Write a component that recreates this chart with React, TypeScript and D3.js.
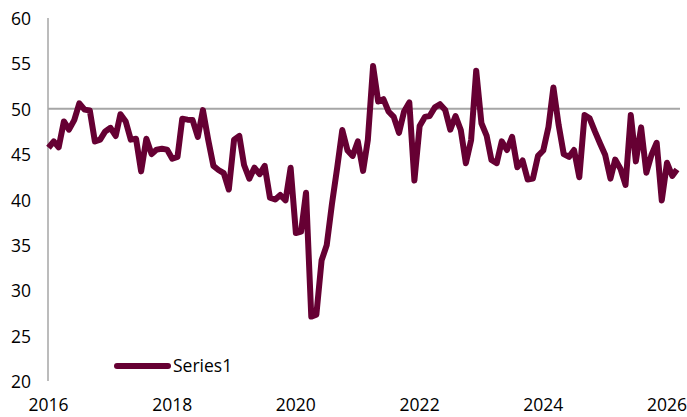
import * as d3 from "d3";

// monthly readings, Jan 2016 .. Mar 2026
const startYear = 2016;
const values: number[] = [
    45.7, 46.4, 45.75, 48.6, 47.7, 48.75, 50.6, 49.9, 49.8, 46.4, 46.6, 47.5,
    47.9, 47.0, 49.4, 48.6, 46.6, 46.7, 43.1, 46.7, 45.0, 45.5, 45.6, 45.5,
    44.5, 44.7, 48.9, 48.8, 48.75, 46.9, 49.85, 46.6, 43.7, 43.25, 42.9, 41.1,
    46.6, 47.0, 43.8, 42.3, 43.5, 42.8, 43.7, 40.2, 40.0, 40.5, 39.9, 43.5,
    36.3, 36.45, 40.75, 27.1, 27.3, 33.3, 34.95, 39.5, 43.5, 47.65, 45.4, 44.8,
    46.4, 43.15, 46.55, 54.7, 50.8, 51.05, 49.7, 49.1, 47.35, 49.7, 50.7, 42.1,
    48.1, 49.1, 49.2, 50.15, 50.5, 49.85, 47.7, 49.2, 47.65, 44.0, 46.55, 54.2,
    48.4, 47.0, 44.35, 44.0, 46.4, 45.45, 46.9, 43.55, 44.3, 42.2, 42.3, 44.8,
    45.4, 48.0, 52.35, 48.2, 45.0, 44.7, 45.45, 42.45, 49.3, 48.95, 47.5, 46.2,
    44.9, 42.3, 44.4, 43.4, 41.6, 49.3, 44.2, 47.95, 42.95, 44.9, 46.25, 39.9,
    44.05, 42.6, 43.3,
];
const yTicks = [20, 25, 30, 35, 40, 45, 50, 55, 60];
const xTickYears = [2016, 2018, 2020, 2022, 2024, 2026];
const referenceLevel = 50;
const seriesName = "Series1";

type Point = { date: Date; value: number };
const data: Point[] = values.map((v, i) => ({ date: new Date(startYear, i, 1), value: v }));

export default function App() {
    const width = 687;
    const height = 417;
    const color = "#660033";
    const gray = "#a6a6a6";
    const font = "'Open Sans', sans-serif";

    const x = d3
        .scaleTime()
        .domain([data[0].date, data[data.length - 1].date])
        .range([48.5, 677]);
    const y = d3.scaleLinear().domain([20, 60]).range([381, 18]);

    const line = d3
        .line<Point>()
        .x((d) => x(d.date))
        .y((d) => y(d.value));

    return (
        <svg
            width={width}
            height={height}
            style={{ position: "absolute", left: 0, top: 0, background: "#fff" }}
        >
            <line x1={48} x2={48} y1={y(60)} y2={y(20)} stroke={gray} strokeWidth={1.5} />
            <line x1={48} x2={680} y1={y(referenceLevel)} y2={y(referenceLevel)} stroke={gray} strokeWidth={2} />

            {yTicks.map((t) => (
                <text
                    key={t}
                    x={31}
                    y={y(t)}
                    textAnchor="end"
                    dominantBaseline="central"
                    fontFamily={font}
                    fontSize={17.5}
                    fill="#000"
                >
                    {t}
                </text>
            ))}

            {xTickYears.map((yr) => (
                <text
                    key={yr}
                    x={x(new Date(yr, 0, 1))}
                    y={411}
                    textAnchor="middle"
                    fontFamily={font}
                    fontSize={17.5}
                    fill="#000"
                >
                    {yr}
                </text>
            ))}

            <path
                d={line(data) ?? ""}
                fill="none"
                stroke={color}
                strokeWidth={6}
                strokeLinejoin="round"
            />

            <line x1={117} x2={168} y1={366} y2={366} stroke={color} strokeWidth={6} strokeLinecap="round" />
            <text x={173} y={372} fontFamily={font} fontSize={17.5} fill="#000">
                {seriesName}
            </text>
        </svg>
    );
}
